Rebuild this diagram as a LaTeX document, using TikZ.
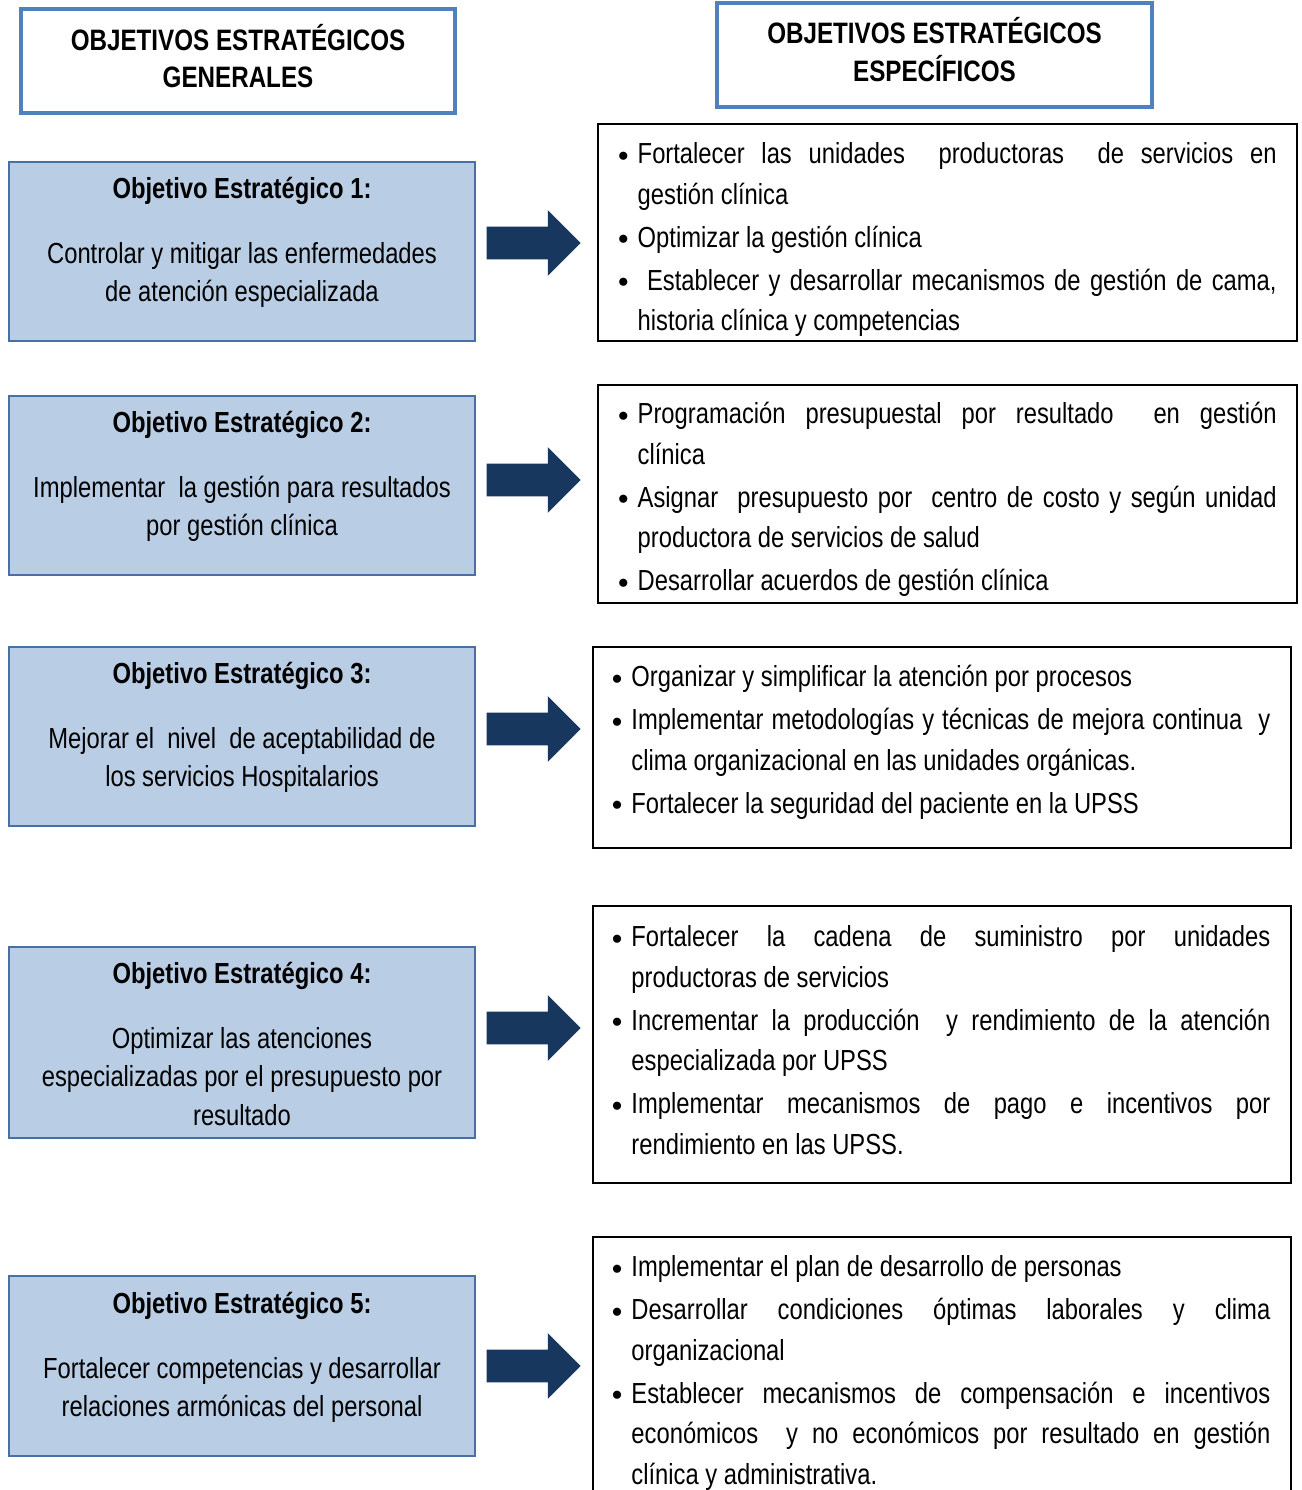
\documentclass[tikz,border=0pt]{standalone}
\usepackage{fontspec}
\setmainfont{Liberation Sans}[FakeStretch=0.82]
\usetikzlibrary{shapes.arrows,calc}
\definecolor{azulcaja}{HTML}{B9CDE5}
\definecolor{bordecaja}{HTML}{4A6FA5}
\definecolor{azulcab}{HTML}{4F81BD}
\definecolor{azulflecha}{HTML}{17375E}
\newcommand{\vineta}{\par\noindent\hangindent=0.34cm\hangafter=1%
  \makebox[0.34cm][l]{\hspace{-1.5pt}\raisebox{1.3pt}{\fontsize{12}{12}\selectfont$\bullet$}}}
\newcommand{\fuenteesp}{\fontsize{16.5}{23}\selectfont\setlength{\parskip}{1.5pt}}
\begin{document}
\begin{tikzpicture}[x=0.02cm,y=-0.02cm,
  cab/.style={draw=azulcab,line width=2.2pt,minimum width=8.68cm,minimum height=2.08cm},
  cabtxt/.style={inner sep=0pt,align=center,font=\bfseries\fontsize{16.8}{21.5}\selectfont},
  gral/.style={draw=bordecaja,line width=0.7pt,fill=azulcaja,minimum width=9.32cm},
  gtxt/.style={anchor=north,inner sep=0pt,align=center,font=\fontsize{16.5}{22}\selectfont},
  espc/.style={draw=black,line width=0.8pt,minimum width=13.97cm},
  etxt/.style={anchor=north west,inner sep=0pt,text width=13.12cm,align=justify,font=\fuenteesp},
  flecha/.style={single arrow,fill=azulflecha,inner xsep=0pt,inner ysep=0.32cm,
    minimum height=1.88cm,single arrow head extend=0.33cm}]
  \useasboundingbox (0,0) rectangle (1301,1490);
  % cabeceras
  \node[cab] (cabgen) at (238,61) {};
  \node[cabtxt] (cabgent) at (238,56) {OBJETIVOS ESTRATÉGICOS\\GENERALES};
  \node[cab,minimum width=8.70cm] (cabesp) at (934.5,55) {};
  \node[cabtxt] (cabespt) at (934.5,49.5) {OBJETIVOS ESTRATÉGICOS\\ESPECÍFICOS};
  % objetivos generales
  \node[gral,minimum height=3.58cm] (g1) at (242,251.5) {};
  \node[gtxt] (g1t) at ($(g1.north)+(0,15)$) {{\bfseries Objetivo Estratégico 1:}\\[15pt]
    Controlar y mitigar las enfermedades\\de atención especializada};
  \node[gral,minimum height=3.58cm] (g2) at (242,485.5) {};
  \node[gtxt] (g2t) at ($(g2.north)+(0,15)$) {{\bfseries Objetivo Estratégico 2:}\\[15pt]
    Implementar\ \ la gestión para resultados\\por gestión clínica};
  \node[gral,minimum height=3.58cm] (g3) at (242,736.5) {};
  \node[gtxt] (g3t) at ($(g3.north)+(0,15)$) {{\bfseries Objetivo Estratégico 3:}\\[15pt]
    Mejorar el\ \ nivel\ \ de aceptabilidad de\\los servicios Hospitalarios};
  \node[gral,minimum height=3.82cm] (g4) at (242,1042.5) {};
  \node[gtxt] (g4t) at ($(g4.north)+(0,15)$) {{\bfseries Objetivo Estratégico 4:}\\[15pt]
    Optimizar las atenciones\\especializadas por el presupuesto por\\resultado};
  \node[gral,minimum height=3.6cm] (g5) at (242,1366) {};
  \node[gtxt] (g5t) at ($(g5.north)+(0,16)$) {{\bfseries Objetivo Estratégico 5:}\\[15pt]
    Fortalecer competencias y desarrollar\\relaciones armónicas del personal};
  % flechas
  \node[flecha] (f1) at (525.5,243) {};
  \node[flecha] (f2) at (525.5,480) {};
  \node[flecha] (f3) at (525.5,729) {};
  \node[flecha] (f4) at (525.5,1028) {};
  \node[flecha] (f5) at (525.5,1366) {};
  % objetivos especificos
  \node[espc,minimum width=13.98cm,minimum height=4.34cm] (e1) at (947.5,232.5) {};
  \node[etxt] (e1t) at ($(e1.north west)+(23,-3)$) {%
    \vineta Fortalecer las unidades\ \ productoras\ \ de servicios en\linebreak gestión clínica
    \vineta Optimizar la gestión clínica
    \vineta\ Establecer y desarrollar mecanismos de gestión de cama,\linebreak historia clínica y competencias\par};
  \node[espc,minimum width=13.98cm,minimum height=4.36cm] (e2) at (947.5,494) {};
  \node[etxt] (e2t) at ($(e2.north west)+(23,-4)$) {%
    \vineta Programación presupuestal por resultado\ \ en gestión\linebreak clínica
    \vineta Asignar\ \ presupuesto por\ \ centro de costo y según unidad\linebreak productora de servicios de salud
    \vineta Desarrollar acuerdos de gestión clínica\par};
  \node[espc,minimum height=4.02cm] (e3) at (942,747.5) {};
  \node[etxt] (e3t) at ($(e3.north west)+(22,-3)$) {%
    \vineta Organizar y simplificar la atención por procesos
    \vineta Implementar metodologías y técnicas de mejora continua\ \ y\linebreak clima organizacional en las unidades orgánicas.
    \vineta Fortalecer la seguridad del paciente en la UPSS\par};
  \node[espc,minimum height=5.54cm] (e4) at (942,1044.5) {};
  \node[etxt] (e4t) at ($(e4.north west)+(22,-2)$) {%
    \vineta Fortalecer la cadena de suministro por unidades\linebreak productoras de servicios
    \vineta Incrementar la producción\ \ y rendimiento de la atención\linebreak especializada por UPSS
    \vineta Implementar mecanismos de pago e incentivos por\linebreak rendimiento en las UPSS.\par};
  \node[espc,minimum height=5.46cm] (e5) at (942,1373.5) {};
  \node[etxt] (e5t) at ($(e5.north west)+(22,-3)$) {%
    \vineta Implementar el plan de desarrollo de personas
    \vineta Desarrollar condiciones óptimas laborales y clima\linebreak organizacional
    \vineta Establecer mecanismos de compensación e incentivos\linebreak económicos\ \ y no económicos por resultado en gestión\linebreak clínica y administrativa.\par};
\end{tikzpicture}
\end{document}
